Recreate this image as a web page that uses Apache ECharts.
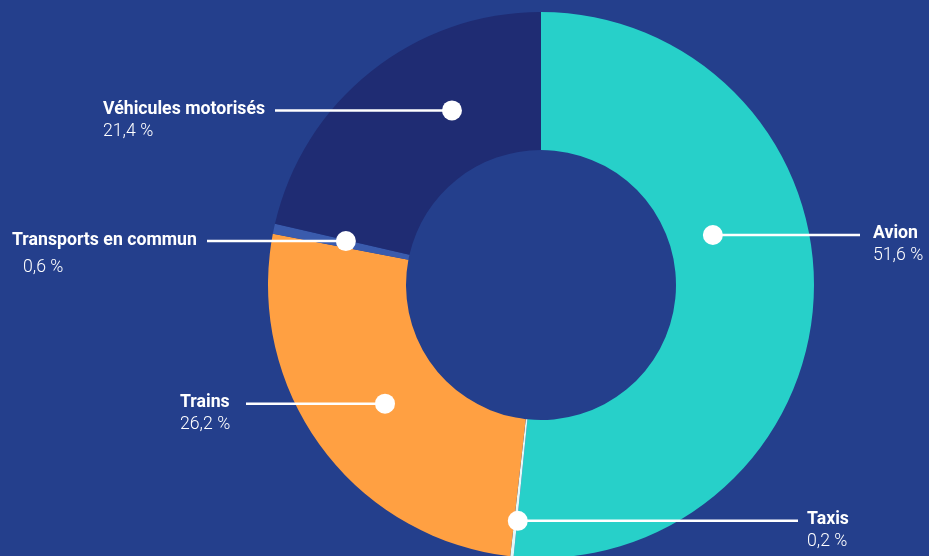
<!DOCTYPE html>
<html>
<head>
<meta charset="utf-8">
<script src="https://cdn.jsdelivr.net/npm/echarts@6/dist/echarts.min.js"></script>
<style>
  html, body { margin: 0; padding: 0; background: #243F8C; }
  #chart { width: 929px; height: 556px; }
</style>
</head>
<body>
<div id="chart"></div>
<script>
// données
var categories = ['Avion', 'Taxis', 'Trains', 'Transports en commun', 'Véhicules motorisés'];
var shares = [51.6, 0.2, 26.2, 0.6, 21.4];
var sliceColors = ['#27D0C9', '#E2F8F8', '#FFA042', '#3A5BAD', '#1F2C73'];

// mise en page (px)
var cx = 541, cy = 285, rOut = 273, rIn = 135;
// point: décalage d'angle par rapport au milieu de la part, rayon
var dotShift = [19.1, 0.5, 0.9, -0.8, -11.5];
var dotRadius = [179, 237, 196, 200, 196];
// texte: x gauche, extrémité du trait
var labelX = [873, 807, 180, 12, 103];
var lineEndX = [860, 798, 246, 207, 275];

var total = shares.reduce(function (a, b) { return a + b; }, 0);
var dots = [];
var acc = 0;
for (var i = 0; i < shares.length; i++) {
  var mid = 90 - 360 * (acc + shares[i] / 2) / total;
  acc += shares[i];
  var ang = mid + dotShift[i];
  ang = ((ang % 360) + 360) % 360;
  dots.push({
    value: [dotRadius[i], ang],
    x: cx + dotRadius[i] * Math.cos(ang * Math.PI / 180),
    y: cy - dotRadius[i] * Math.sin(ang * Math.PI / 180)
  });
}

function fmt(v) { return v.toFixed(1).replace('.', ',') + ' %'; }

var pieData = categories.map(function (c, i) {
  return { name: c, value: shares[i], itemStyle: { color: sliceColors[i] } };
});
// même découpage, transparent, juste pour porter les étiquettes au-dessus
var labelData = categories.map(function (c, i) {
  return { name: c, value: shares[i] };
});

var myChart = echarts.init(document.getElementById('chart'));
myChart.setOption({
  backgroundColor: '#243F8C',
  animation: false,
  polar: { center: [cx, cy], radius: rOut },
  angleAxis: { type: 'value', min: 0, max: 360, startAngle: 0, clockwise: false, show: false },
  radiusAxis: { type: 'value', min: 0, max: rOut, show: false },
  series: [
    {
      type: 'pie',
      center: [cx, cy],
      radius: [rIn, rOut],
      startAngle: 90,
      clockwise: true,
      silent: true,
      z: 1,
      data: pieData,
      label: { show: false },
      labelLine: { show: false }
    },
    {
      type: 'pie',
      center: [cx, cy],
      radius: [rIn, rOut],
      startAngle: 90,
      clockwise: true,
      silent: true,
      z: 3,
      avoidLabelOverlap: false,
      itemStyle: { color: 'rgba(0,0,0,0)' },
      data: labelData,
      label: {
        show: true,
        position: 'outside',
        formatter: function (p) {
          if (p.dataIndex === 3) return '{n|' + p.name + '}\n{w|' + fmt(p.value) + '}';
          return '{n|' + p.name + '}\n{v|' + fmt(p.value) + '}';
        },
        rich: {
          n: { fontFamily: 'Roboto', fontSize: 17.7, fontWeight: 'bold', color: '#ffffff', lineHeight: 22 },
          v: { fontFamily: 'Roboto', fontSize: 17.7, fontWeight: 300, color: '#ffffff', lineHeight: 22 },
          w: { fontFamily: 'Roboto', fontSize: 17.7, fontWeight: 300, color: '#ffffff', lineHeight: 32, padding: [0, 0, 0, 11] }
        }
      },
      labelLine: {
        show: true,
        smooth: false,
        lineStyle: { color: '#ffffff', width: 2.5 }
      },
      labelLayout: function (p) {
        var i = p.dataIndex;
        var d = dots[i];
        return {
          x: labelX[i],
          y: d.y - 12,
          align: 'left',
          verticalAlign: 'top',
          labelLinePoints: [[d.x, d.y], [lineEndX[i], d.y], [lineEndX[i], d.y]]
        };
      }
    },
    {
      type: 'scatter',
      coordinateSystem: 'polar',
      symbol: 'circle',
      symbolSize: 20,
      silent: true,
      z: 5,
      itemStyle: { color: '#ffffff', opacity: 1 },
      data: dots.map(function (d) { return d.value; })
    }
  ]
});
</script>
</body>
</html>
